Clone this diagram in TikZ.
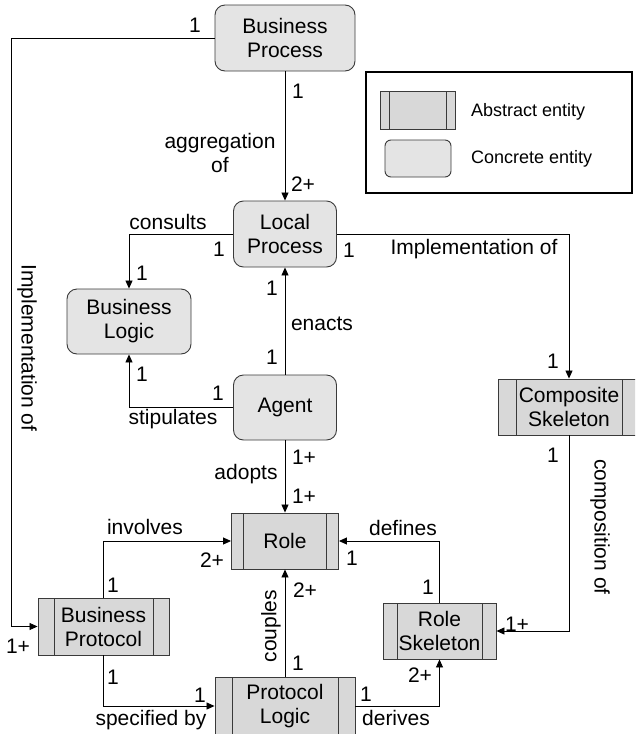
\documentclass[tikz,border=0pt]{standalone}
\usepackage{fontspec}
\setmainfont{Liberation Sans}
\usetikzlibrary{arrows.meta}

\definecolor{concretefill}{HTML}{E4E4E4}
\definecolor{abstractfill}{HTML}{D8D8D8}
\definecolor{edgegray}{HTML}{3A3A3A}

\tikzset{
  every node/.style={font=\fontsize{21}{24}\selectfont},
  concrete/.style={draw=edgegray, line width=0.9pt, fill=concretefill,
    rounded corners=10pt, align=center, inner sep=0pt},
  abstract/.style={draw=edgegray, line width=0.9pt, fill=abstractfill,
    align=center, inner sep=0pt,
    path picture={
      \draw[edgegray, line width=0.9pt]
        ([xshift=#1]path picture bounding box.north west) --
        ([xshift=#1]path picture bounding box.south west)
        ([xshift=-#1]path picture bounding box.north east) --
        ([xshift=-#1]path picture bounding box.south east);}},
  abstract/.default=14pt,
  link/.style={draw=black, line width=0.85pt,
    -{Triangle[length=8pt,width=7pt]}},
  lbl/.style={inner sep=0pt},
  legendtext/.style={inner sep=0pt, anchor=west, font=\fontsize{18}{21}\selectfont},
}

\begin{document}
\begin{tikzpicture}[x=1pt, y=-1pt]
\useasboundingbox (0,0) rectangle (635,734);
\clip (0,0) rectangle (635,734);

% entities
\node[concrete, minimum width=140pt, minimum height=66pt] (bp)  at (285,38)    {Business\\Process};
\node[concrete, minimum width=103pt, minimum height=66pt] (lp)  at (285,234)   {Local\\Process};
\node[concrete, minimum width=124pt, minimum height=65pt] (bl)  at (129,321.5) {Business\\Logic};
\node[concrete, minimum width=103pt, minimum height=65pt] (ag)  at (285,407.5) {Agent};
\node[abstract=18pt, minimum width=142pt, minimum height=56pt] (cs)  at (569,407)   {Composite\\Skeleton};
\node[abstract=12pt, minimum width=107pt, minimum height=56pt] (role) at (285,541)  {Role};
\node[abstract=16pt, minimum width=131pt, minimum height=57pt] (bpr) at (103.5,626.5) {Business\\Protocol};
\node[abstract=17pt, minimum width=140pt, minimum height=58pt] (pl)  at (285,706)   {Protocol\\Logic};
\node[abstract=14pt, minimum width=113pt, minimum height=56pt] (rs)  at (439.5,631) {Role\\Skeleton};

% legend
\node[draw=black, line width=1.6pt, minimum width=266pt, minimum height=121pt, inner sep=0pt] (legend) at (499,132.5) {};
\node[abstract=9pt, minimum width=75pt, minimum height=38pt] (legabs) at (417.5,110) {};
\node[concrete, rounded corners=6pt, minimum width=66pt, minimum height=37pt] (legcon) at (418,158.5) {};
\node[legendtext] (legabstxt) at (471,112) {Abstract entity};
\node[legendtext] (legcontxt) at (471,159) {Concrete entity};

% rail bends
\coordinate (leftrail) at (11,0);

% connectors
\draw[link] (bp.south) -- (lp.north);
\draw[link] (bp.west) -- (bp.west -| leftrail) -- (leftrail |- bpr.west) -- (bpr.west);
\draw[link] (lp.west) -| (bl.north);
\draw[link] (lp.east) -| (cs.north);
\draw[link] (ag.north) -- (lp.south);
\draw[link] (ag.west) -| (bl.south);
\draw[link] (ag.south) -- (role.north);
\draw[link] (bpr.north) |- (role.west);
\draw[link] (bpr.south) |- (pl.west);
\draw[link] (pl.north) -- (role.south);
\draw[link] (rs.north) |- (role.east);
\draw[link] (cs.south) |- (rs.east);
\draw[link] (pl.east) -| (rs.south);

% relation names
\node[lbl, align=center] (taggr) at (220,153) {aggregation\\of};
\node[lbl, rotate=-90] (timpl1) at (27,348) {Implementation of};
\node[lbl] (tcons) at (168,222) {consults};
\node[lbl] (timpl2) at (474,249) {Implementation of};
\node[lbl] (tenac) at (322,324) {enacts};
\node[lbl] (tstip) at (173,419) {stipulates};
\node[lbl] (tadop) at (246,474) {adopts};
\node[lbl] (tinvo) at (145,527) {involves};
\node[lbl] (tspec) at (151,720) {specified by};
\node[lbl, rotate=90] (tcoup) at (271,626) {couples};
\node[lbl] (tdefi) at (403,528) {defines};
\node[lbl, rotate=-90] (tcomp) at (600,527) {composition of};
\node[lbl] (tderi) at (396,718) {derives};

% multiplicities
\node[lbl] (m1)  at (195,25)  {1};
\node[lbl] (m2)  at (298,91)  {1};
\node[lbl] (m3)  at (303,184) {2+};
\node[lbl] (m4)  at (219,249) {1};
\node[lbl] (m5)  at (142,273) {1};
\node[lbl] (m6)  at (349,250) {1};
\node[lbl] (m7)  at (553,361) {1};
\node[lbl] (m8)  at (272,288) {1};
\node[lbl] (m9)  at (272,357) {1};
\node[lbl] (m10) at (218,393) {1};
\node[lbl] (m11) at (142,374) {1};
\node[lbl] (m12) at (304,457) {1+};
\node[lbl] (m13) at (304,496) {1+};
\node[lbl] (m14) at (212,560) {2+};
\node[lbl] (m15) at (113,585) {1};
\node[lbl] (m16) at (18,646)  {1+};
\node[lbl] (m17) at (113,677) {1};
\node[lbl] (m18) at (200,695) {1};
\node[lbl] (m19) at (305,590) {2+};
\node[lbl] (m20) at (298,663) {1};
\node[lbl] (m21) at (352,558) {1};
\node[lbl] (m22) at (428,587) {1};
\node[lbl] (m23) at (553,455) {1};
\node[lbl] (m24) at (517,624) {1+};
\node[lbl] (m25) at (366,694) {1};
\node[lbl] (m26) at (420,675) {2+};
\end{tikzpicture}
\end{document}
